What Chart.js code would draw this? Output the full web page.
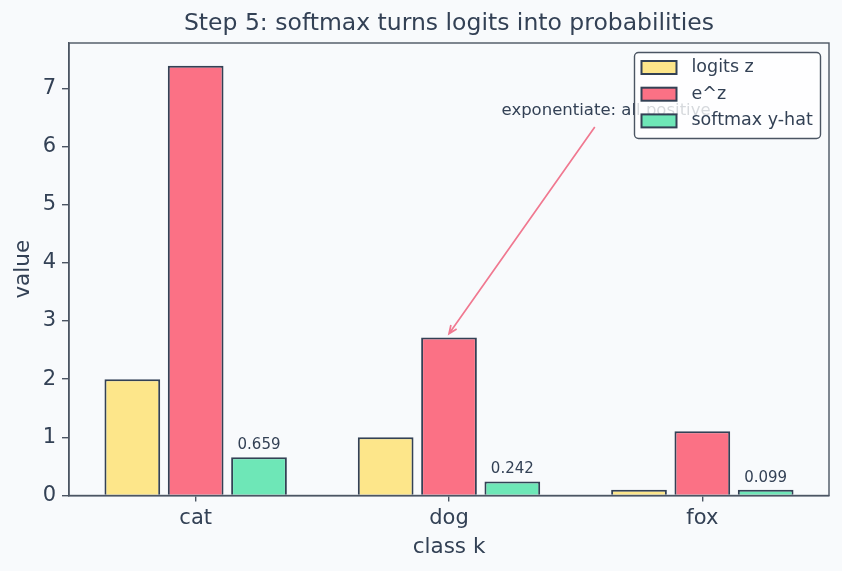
<!DOCTYPE html>
<html>
<head>
<meta charset="utf-8">
<script src="https://cdn.jsdelivr.net/npm/chart.js@4"></script>
<style>
  html, body { margin: 0; padding: 0; background: #f8fafc; }
  #wrap { width: 842px; height: 571px; }
</style>
</head>
<body>
<div id="wrap"><canvas id="softmaxChart" width="842" height="571"></canvas></div>
<script>
// Data for the chart
const categories = ['cat', 'dog', 'fox'];
const logits = [2.0, 1.0, 0.1];
const expLogits = [7.389, 2.718, 1.105];
const softmaxProbs = [0.659, 0.242, 0.099];
const seriesNames = ['logits z', 'e^z', 'softmax y-hat'];
const yTickValues = [0, 1, 2, 3, 4, 5, 6, 7];
const yLimit = 7.78;

// Annotation (data coords)
const noteText = 'exponentiate: all positive';
const notePos = { x: 1.62, y: 6.61 };
const noteTarget = { x: 1.0, y: 2.78 };

const INK = '#334155';
const SPINE = '#4b5563';
const EDGE = '#334155';
const FONT = "'DejaVu Sans', sans-serif";

// Box around the plot area
const framePlugin = {
    id: 'frame',
    afterDatasetsDraw(chart) {
        const { ctx, chartArea: a } = chart;
        ctx.save();
        ctx.strokeStyle = SPINE;
        ctx.lineWidth = 1.4;
        ctx.strokeRect(a.left, a.top, a.right - a.left, a.bottom - a.top);
        ctx.restore();
    }
};

// Probability labels above the softmax bars
const valueLabels = {
    id: 'valueLabels',
    afterDatasetsDraw(chart) {
        const { ctx } = chart;
        const meta = chart.getDatasetMeta(2);
        ctx.save();
        ctx.font = '15px ' + FONT;
        ctx.fillStyle = INK;
        ctx.textAlign = 'center';
        ctx.textBaseline = 'alphabetic';
        meta.data.forEach((bar, i) => {
            ctx.fillText(softmaxProbs[i].toFixed(3), bar.x, bar.y - 8);
        });
        ctx.restore();
    }
};

// Text + arrow pointing at the e^z bar of "dog"
const notePlugin = {
    id: 'note',
    afterDatasetsDraw(chart) {
        const { ctx, scales: { x, y } } = chart;
        const tx = x.getPixelForValue(notePos.x);
        const ty = y.getPixelForValue(notePos.y);
        const hx = x.getPixelForValue(noteTarget.x);
        const hy = y.getPixelForValue(noteTarget.y);

        ctx.save();
        ctx.font = '16.5px ' + FONT;
        ctx.fillStyle = INK;
        ctx.textAlign = 'center';
        ctx.textBaseline = 'middle';
        ctx.fillText(noteText, tx, ty);

        // start the arrow just below the text box
        const dx = hx - tx, dy = hy - ty;
        const t = 16 / dy;
        const sx = tx + dx * t, sy = ty + dy * t;
        const ang = Math.atan2(hy - sy, hx - sx);
        ctx.strokeStyle = '#f07890';
        ctx.lineWidth = 1.7;
        ctx.beginPath();
        ctx.moveTo(sx, sy);
        ctx.lineTo(hx, hy);
        const hl = 9, hw = 0.4;
        ctx.moveTo(hx - hl * Math.cos(ang - hw), hy - hl * Math.sin(ang - hw));
        ctx.lineTo(hx, hy);
        ctx.lineTo(hx - hl * Math.cos(ang + hw), hy - hl * Math.sin(ang + hw));
        ctx.stroke();
        ctx.restore();
    }
};

// Legend box inside the plot, upper right
const boxLegend = {
    id: 'boxLegend',
    afterDraw(chart) {
        const { ctx, chartArea: a } = chart;
        const w = 186, h = 86;
        const left = a.right - 8.5 - w, top = a.top + 9.5;
        ctx.save();
        ctx.fillStyle = 'rgba(255,255,255,0.8)';
        ctx.strokeStyle = SPINE;
        ctx.lineWidth = 1.4;
        ctx.beginPath();
        ctx.roundRect(left, top, w, h, 4);
        ctx.fill();
        ctx.stroke();

        ctx.font = '17.5px ' + FONT;
        ctx.textBaseline = 'middle';
        chart.data.datasets.forEach((ds, i) => {
            const cy = top + 15 + i * 26.7;
            ctx.fillStyle = ds.backgroundColor;
            ctx.fillRect(left + 7, cy - 6.5, 35, 13);
            ctx.strokeStyle = EDGE;
            ctx.lineWidth = 2;
            ctx.strokeRect(left + 7, cy - 6.5, 35, 13);
            ctx.fillStyle = INK;
            ctx.fillText(ds.label, left + 57, cy);
        });
        ctx.restore();
    }
};

function makeDataset(label, values, color) {
    return {
        label: label,
        data: values,
        backgroundColor: color,
        borderColor: EDGE,
        borderWidth: 2,
        categoryPercentage: 0.75,
        barPercentage: 0.88
    };
}

const ctx = document.getElementById('softmaxChart').getContext('2d');

new Chart(ctx, {
    type: 'bar',
    data: {
        labels: categories,
        datasets: [
            makeDataset(seriesNames[0], logits, '#fde68a'),
            makeDataset(seriesNames[1], expLogits, '#fb7185'),
            makeDataset(seriesNames[2], softmaxProbs, '#6ee7b7')
        ]
    },
    options: {
        responsive: false,
        animation: false,
        layout: { padding: { top: 0, right: 13, bottom: 0, left: 0 } },
        plugins: {
            legend: { display: false },
            tooltip: { enabled: false },
            title: {
                display: true,
                fullSize: false,
                text: 'Step 5: softmax turns logits into probabilities',
                color: INK,
                font: { family: FONT, size: 23.5, weight: 'normal' },
                padding: { top: 10, bottom: 4.8 }
            }
        },
        scales: {
            x: {
                offset: true,
                grid: { display: true, drawOnChartArea: false, drawTicks: true, tickLength: 6, color: SPINE, offset: false, lineWidth: 1.4 },
                border: { display: true, color: SPINE, width: 1.4 },
                ticks: { color: INK, font: { family: FONT, size: 21 }, padding: 4 },
                title: { display: true, text: 'class k', color: INK, font: { family: FONT, size: 21.5 }, padding: { top: 0, bottom: 11 } },
                afterFit(scale) { scale.height = 75.5; }
            },
            y: {
                min: 0,
                max: yLimit,
                grid: { display: true, drawOnChartArea: false, drawTicks: true, tickLength: 7, color: SPINE, lineWidth: 1.4 },
                border: { display: true, color: SPINE, width: 1.4 },
                ticks: { color: INK, font: { family: FONT, size: 21 }, padding: 6, stepSize: 1 },
                afterBuildTicks(scale) {
                    scale.ticks = yTickValues.map(v => ({ value: v }));
                },
                title: { display: true, text: 'value', color: INK, font: { family: FONT, size: 21.5 }, padding: { top: 11, bottom: 0 } },
                afterFit(scale) { scale.width = 69; }
            }
        }
    },
    plugins: [framePlugin, valueLabels, notePlugin, boxLegend]
});
</script>
</body>
</html>
